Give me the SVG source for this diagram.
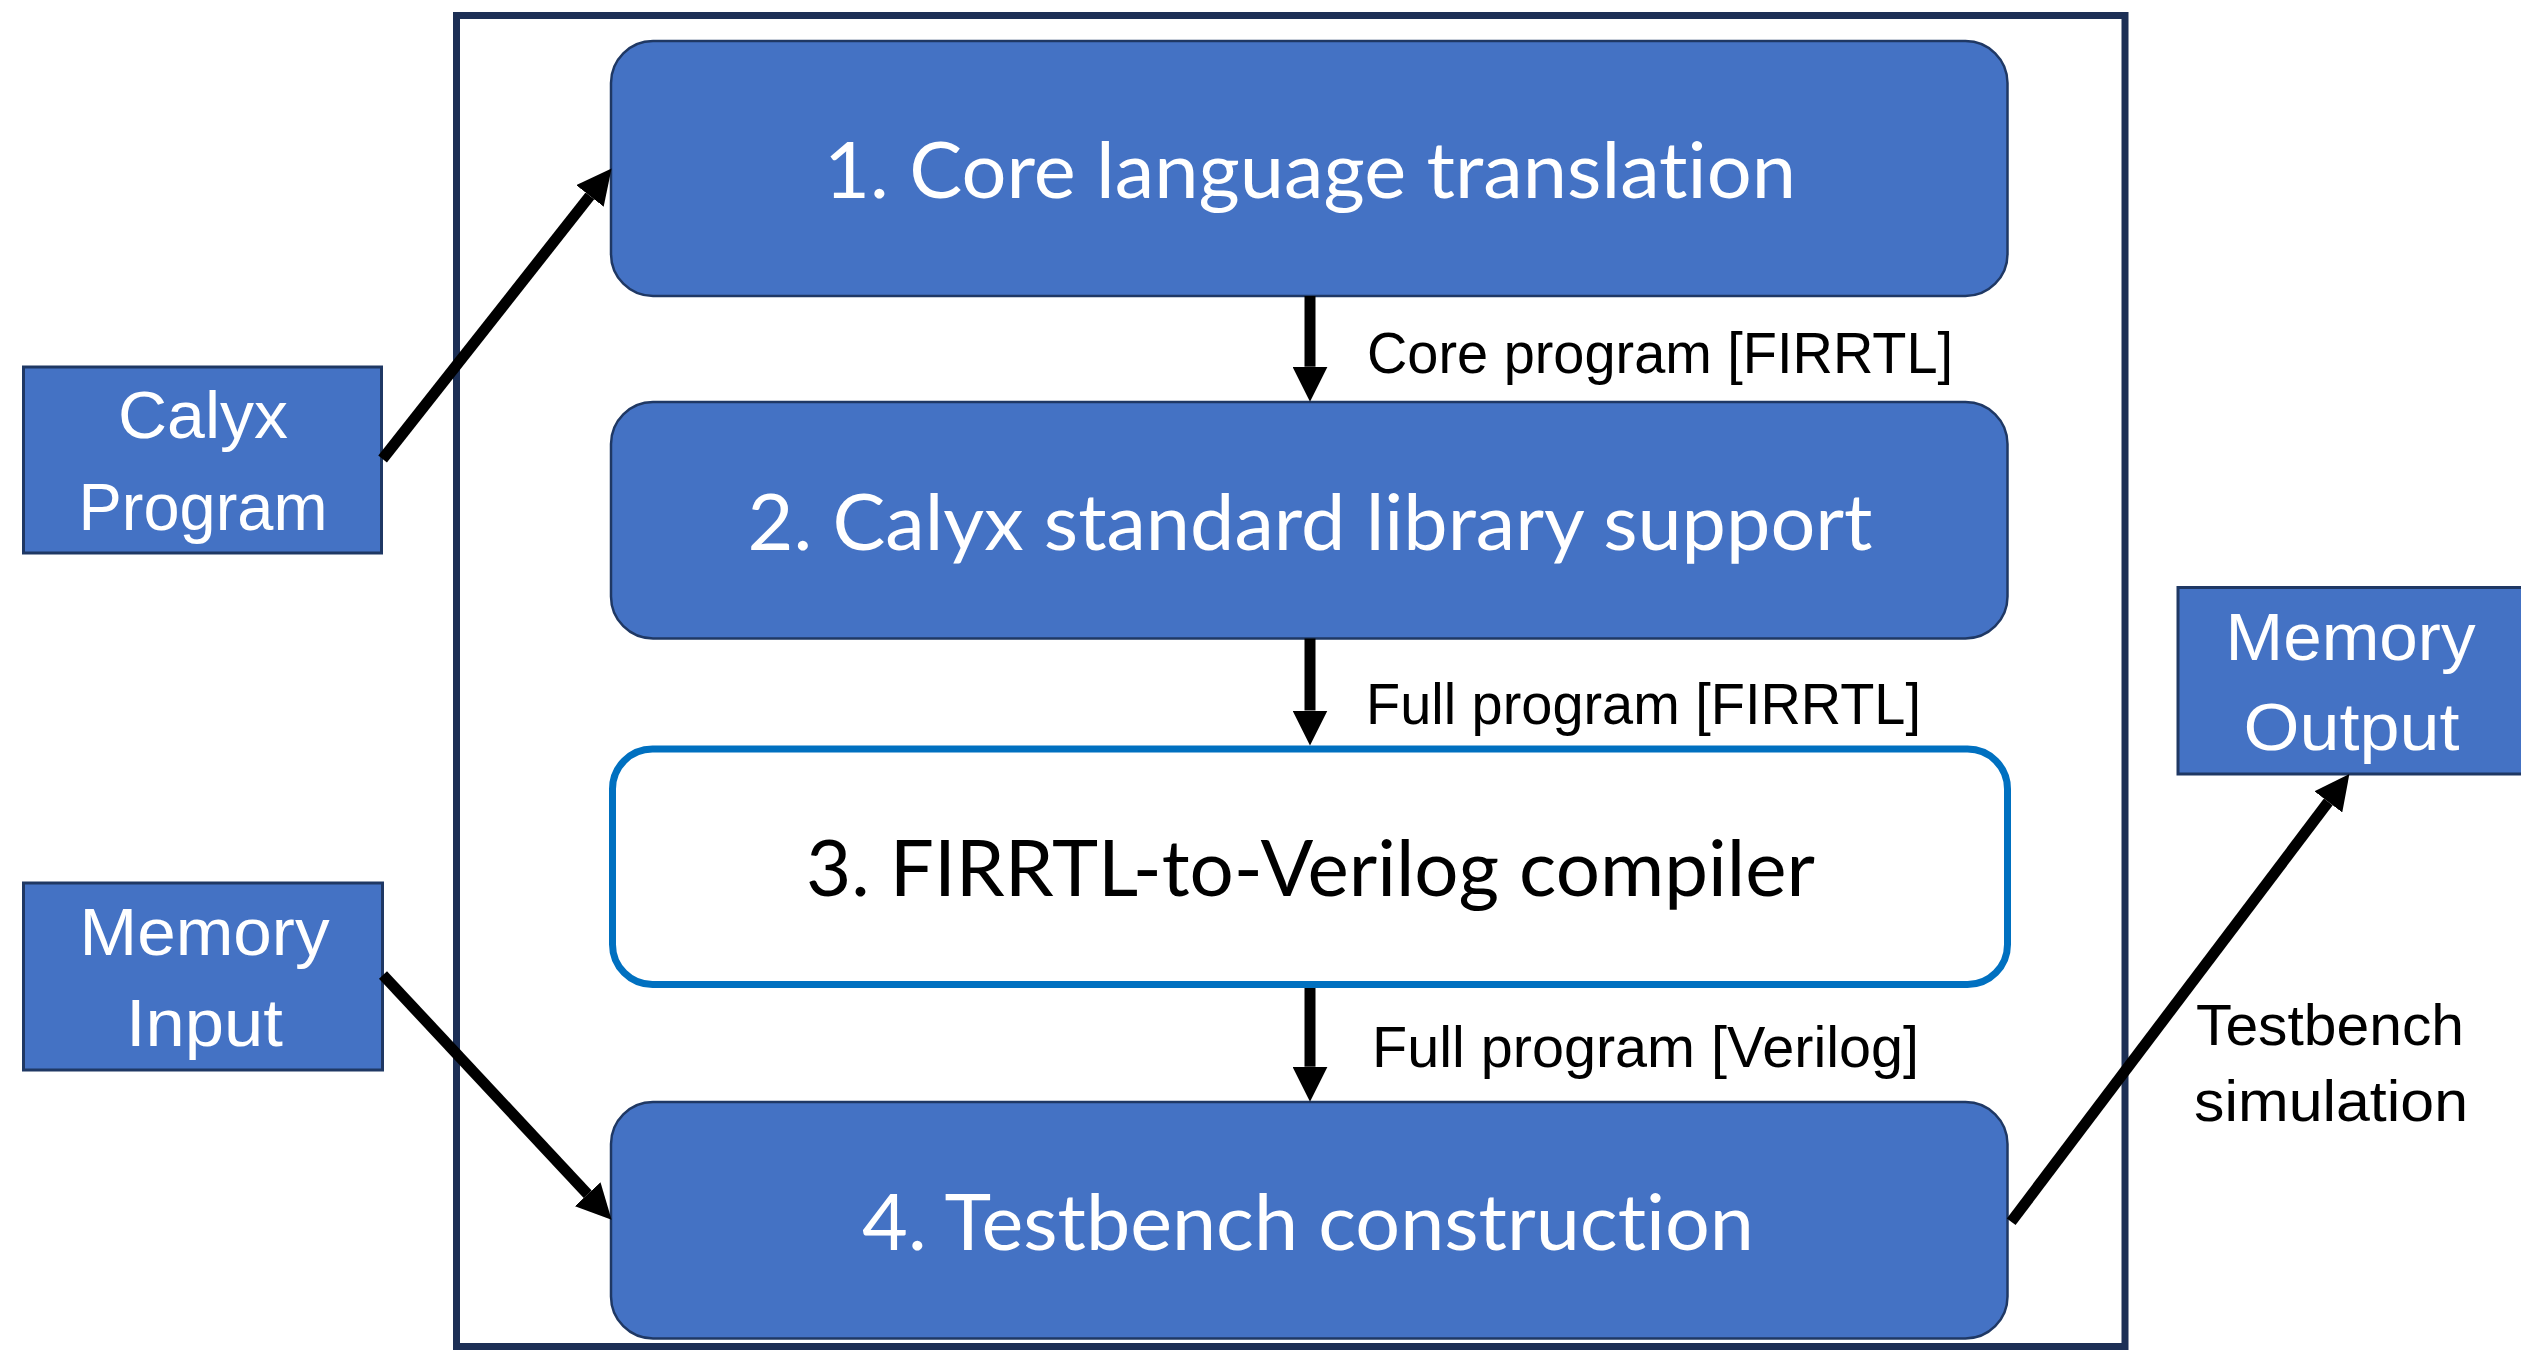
<svg xmlns="http://www.w3.org/2000/svg" width="2521" height="1350" viewBox="0 0 2521 1350">
  <style>
    .stage { fill: #4472c4; stroke: #1f3864; stroke-width: 2.5; }
    .io { fill: #4472c4; stroke: #1f3864; stroke-width: 3; }
    .stage-text { font-family: Lato, "Open Sans", sans-serif; font-size: 77px; fill: #ffffff; text-anchor: middle; font-variant-ligatures: none; font-feature-settings: "liga" 0, "clig" 0; }
    .io-text { font-family: "Liberation Sans", Arial, sans-serif; font-size: 67px; fill: #ffffff; text-anchor: middle; }
    .label { font-family: "Liberation Sans", Arial, sans-serif; font-size: 57px; fill: #000000; }
    .flow { stroke: #000000; stroke-width: 11; fill: none; marker-end: url(#head); }
  </style>
  <defs>
    <marker id="head" viewBox="0 -17.5 35 35" refX="0" refY="0" markerWidth="35" markerHeight="35" markerUnits="userSpaceOnUse" orient="auto">
      <path d="M0,-17.5 L35,0 L0,17.5 Z" fill="#000000"/>
    </marker>
  </defs>

  <rect width="2521" height="1350" fill="#ffffff"/>

  <!-- pipeline frame -->
  <rect id="frame" x="456.5" y="15.5" width="1668.5" height="1331" fill="none" stroke="#1c2f55" stroke-width="7"/>

  <g id="stage1">
    <rect class="stage" x="611" y="41" width="1396.5" height="255" rx="42" ry="42"/>
    <text class="stage-text" x="1310" y="198" textLength="972" lengthAdjust="spacingAndGlyphs">1. Core language translation</text>
  </g>

  <g id="stage2">
    <rect class="stage" x="611" y="402" width="1396.5" height="236.5" rx="42" ry="42"/>
    <text class="stage-text" x="1310" y="550" textLength="1125" lengthAdjust="spacingAndGlyphs">2. Calyx standard library support</text>
  </g>

  <g id="stage3">
    <rect x="612.5" y="749" width="1395" height="235.5" rx="40" ry="40" fill="#ffffff" stroke="#0070c0" stroke-width="7"/>
    <text class="stage-text" x="1310.5" y="896" textLength="1009" lengthAdjust="spacingAndGlyphs" style="fill:#000000">3. FIRRTL-to-Verilog compiler</text>
  </g>

  <g id="stage4">
    <rect class="stage" x="611" y="1102" width="1396.5" height="236.5" rx="42" ry="42"/>
    <text class="stage-text" x="1308" y="1249.5" textLength="892" lengthAdjust="spacingAndGlyphs">4. Testbench construction</text>
  </g>

  <g id="calyx-program">
    <rect class="io" x="23.5" y="367" width="358" height="186"/>
    <text class="io-text" x="203" y="438" textLength="170" lengthAdjust="spacingAndGlyphs">Calyx</text>
    <text class="io-text" x="203" y="529.5" textLength="249" lengthAdjust="spacingAndGlyphs">Program</text>
  </g>

  <g id="memory-input">
    <rect class="io" x="23.5" y="883" width="359" height="187"/>
    <text class="io-text" x="204.5" y="955" textLength="250" lengthAdjust="spacingAndGlyphs">Memory</text>
    <text class="io-text" x="204.5" y="1045.5" textLength="157" lengthAdjust="spacingAndGlyphs">Input</text>
  </g>

  <g id="memory-output">
    <rect class="io" x="2178" y="587.5" width="360" height="186.5"/>
    <text class="io-text" x="2350.5" y="659.5" textLength="250" lengthAdjust="spacingAndGlyphs">Memory</text>
    <text class="io-text" x="2351.5" y="749.5" textLength="216" lengthAdjust="spacingAndGlyphs">Output</text>
  </g>

  <g id="connectors">
    <line class="flow" x1="1310" y1="296" x2="1310" y2="366.7"/>
    <line class="flow" x1="1310" y1="638.5" x2="1310" y2="710.5"/>
    <line class="flow" x1="1310" y1="988" x2="1310" y2="1066.7"/>
    <line class="flow" x1="382.6" y1="459" x2="589.9" y2="195.9"/>
    <line class="flow" x1="383" y1="975" x2="587.7" y2="1194.2"/>
    <line class="flow" x1="2011.2" y1="1221.7" x2="2328.3" y2="801.9"/>
  </g>

  <g id="labels">
    <text class="label" x="1367" y="372.5" textLength="586" lengthAdjust="spacingAndGlyphs">Core program [FIRRTL]</text>
    <text class="label" x="1366" y="723.5" textLength="555" lengthAdjust="spacingAndGlyphs">Full program [FIRRTL]</text>
    <text class="label" x="1372" y="1066.5" textLength="547" lengthAdjust="spacingAndGlyphs">Full program [Verilog]</text>
    <text class="label" x="2330" y="1044.5" textLength="268" lengthAdjust="spacingAndGlyphs" text-anchor="middle">Testbench</text>
    <text class="label" x="2331" y="1120.5" textLength="274" lengthAdjust="spacingAndGlyphs" text-anchor="middle">simulation</text>
  </g>
</svg>
